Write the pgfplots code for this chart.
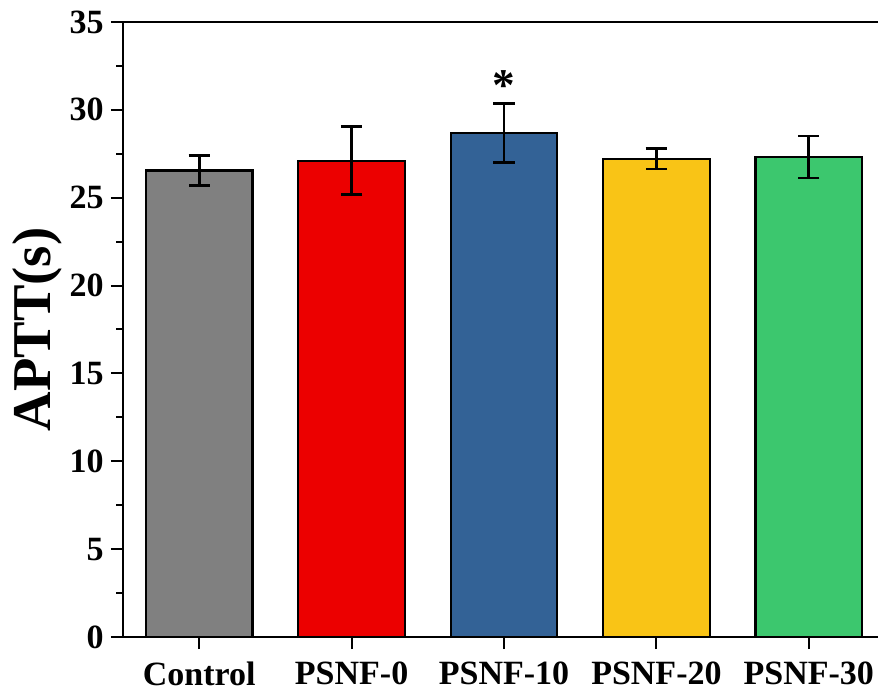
\documentclass[border=0pt]{standalone}
\usepackage{fontspec}
\setmainfont{Liberation Serif}
\usepackage{pgfplots}
\pgfplotsset{compat=1.18}
\definecolor{cgray}{RGB}{128,128,128}
\definecolor{cred}{RGB}{236,0,0}
\definecolor{cblue}{RGB}{51,98,150}
\definecolor{cyellow}{RGB}{249,196,22}
\definecolor{cgreen}{RGB}{60,199,110}
\pgfplotsset{mybar/.style={ybar, bar width=0.7, fill=#1, draw=black, line width=1.6pt,
  error bars/.cd, y dir=both, y explicit,
  error bar style={line width=2pt},
  error mark options={rotate=90, line width=2pt, mark size=8pt}}}
\begin{document}
\begin{tikzpicture}
\begin{axis}[
  scale only axis,
  width=566.25pt, height=461.25pt,
  xmin=-0.5, xmax=4.454,
  ymin=0, ymax=35,
  axis x line*=box, axis y line*=left,
  axis line style={line width=1.5pt},
  xtick={0,1,2,3,4},
  xticklabels={Control,PSNF-0,PSNF-10,PSNF-20,PSNF-30},
  xtick pos=bottom, ytick pos=left,
  ytick={0,5,...,35},
  minor y tick num=1,
  tick align=outside,
  major tick length=9pt, minor tick length=5pt,
  every tick/.style={black, line width=1.5pt},
  /pgf/number format/assume math mode=true,
  ticklabel style={font=\fontsize{25.5}{28}\selectfont\bfseries},
  yticklabel style={xshift=-2pt},
  xticklabel style={yshift=-6pt},
  ylabel={APTT(s)},
  ylabel style={font=\fontsize{41}{45}\selectfont\bfseries, yshift=-1pt},
  clip=false,
]
\addplot[mybar=cgray]   coordinates {(0,26.55) +- (0,0.87)};
\addplot[mybar=cred]    coordinates {(1,27.11) +- (0,1.93)};
\addplot[mybar=cblue]   coordinates {(2,28.68) +- (0,1.69)};
\addplot[mybar=cyellow] coordinates {(3,27.22) +- (0,0.58)};
\addplot[mybar=cgreen]  coordinates {(4,27.32) +- (0,1.2)};
\node[font=\fontsize{34}{36}\selectfont\bfseries] at (axis cs:2,31.4) {*};
\end{axis}
\pgfresetboundingbox
\path ([xshift=-92.25pt,yshift=-42pt]current axis.south west) rectangle ([yshift=16.5pt]current axis.north east);
\end{tikzpicture}
\end{document}
